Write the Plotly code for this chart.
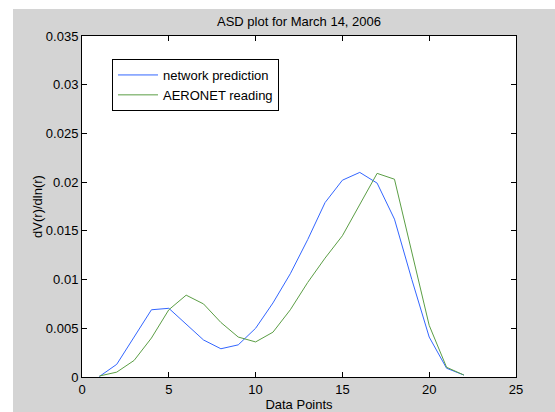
import plotly.graph_objects as go

# ---- data ----
data_points = list(range(1, 23))
network_prediction = [0.00005, 0.0013, 0.0041, 0.0069, 0.00705, 0.0054, 0.0038, 0.0029,
                      0.0033, 0.0050, 0.0076, 0.0106, 0.0141, 0.0179, 0.0202, 0.0210,
                      0.0199, 0.0162, 0.0100, 0.0041, 0.0009, 0.0002]
aeronet_reading = [0.0001, 0.0005, 0.0017, 0.0040, 0.0069, 0.0084, 0.0075, 0.0056,
                   0.0041, 0.0036, 0.0046, 0.0069, 0.0097, 0.0122, 0.0145, 0.0177,
                   0.0209, 0.0203, 0.0129, 0.0053, 0.0010, 0.0002]
x_tick_vals = [0, 5, 10, 15, 20, 25]
y_tick_vals = [0, 0.005, 0.01, 0.015, 0.02, 0.025, 0.03, 0.035]
y_tick_text = ["0", "0.005", "0.01", "0.015", "0.02", "0.025", "0.03", "0.035"]

W, H = 555, 412
L, R, T, B = 82, 39, 36, 35
PW, PH = W - L - R, H - T - B
FONT = "Liberation Sans, Arial, Helvetica, sans-serif"
GRAY = "#d4d4d4"

def px_x(p):
    return (p - L) / PW

def px_y(p):
    return (H - B - p) / PH

fig = go.Figure()
fig.add_trace(go.Scatter(x=data_points, y=network_prediction, mode="lines",
                         name="network prediction",
                         line=dict(color="#3366ff", width=1)))
fig.add_trace(go.Scatter(x=data_points, y=aeronet_reading, mode="lines",
                         name="AERONET reading",
                         line=dict(color="#5b9e45", width=1)))

axis_common = dict(showline=True, linecolor="black", linewidth=1, mirror="ticks",
                   ticks="inside", ticklen=5, tickcolor="black", showgrid=False,
                   zeroline=False, tickfont=dict(family=FONT, size=13, color="black"),
                   automargin=False)

fig.update_xaxes(range=[0, 25], tickvals=x_tick_vals,
                 title=dict(text="Data Points", font=dict(family=FONT, size=13, color="black"),
                            standoff=7),
                 **axis_common)
fig.update_yaxes(range=[0, 0.035], tickvals=y_tick_vals, ticktext=y_tick_text,
                 title=dict(text="dV(r)/dln(r)", font=dict(family=FONT, size=13, color="black"),
                            standoff=0),
                 **axis_common)

fig.update_layout(
    width=W, height=H,
    margin=dict(l=L, r=R, t=T, b=B, pad=0),
    paper_bgcolor=GRAY, plot_bgcolor="white",
    font=dict(family=FONT, size=13, color="black"),
    title=dict(text="ASD plot for March 14, 2006", x=px_x((L + W - R) / 2), xref="paper",
               xanchor="center", y=1 - 21 / H, yref="container", yanchor="middle",
               font=dict(family=FONT, size=13, color="black")),
    legend=dict(x=px_x(112), y=px_y(59), xanchor="left", yanchor="top",
                bgcolor="white", bordercolor="black", borderwidth=1,
                font=dict(family=FONT, size=13, color="black"),
                tracegroupgap=0, itemwidth=40),
    showlegend=True,
    shapes=[
        dict(type="rect", xref="paper", yref="paper", x0=px_x(0), x1=px_x(13),
             y0=px_y(H), y1=px_y(0), fillcolor="white", line=dict(width=0), layer="below"),
        dict(type="rect", xref="paper", yref="paper", x0=px_x(0), x1=px_x(W),
             y0=px_y(9), y1=px_y(0), fillcolor="white", line=dict(width=0), layer="below"),
    ],
)

fig.write_html("out.html", config={"displayModeBar": False},
               post_script="document.body.style.margin='0';document.body.style.padding='0';")
